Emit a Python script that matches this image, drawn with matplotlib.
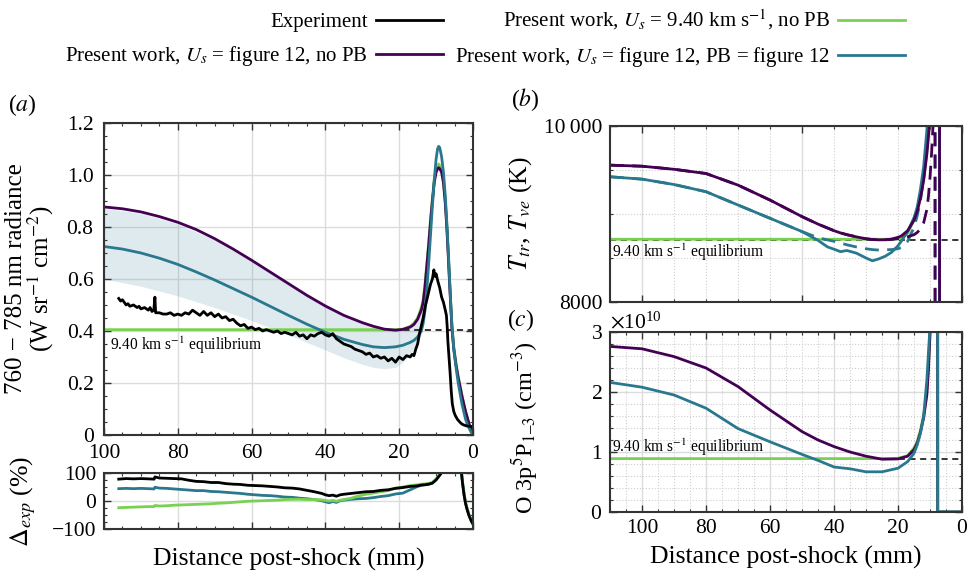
import numpy as np
import matplotlib
matplotlib.use('Agg')
import matplotlib.pyplot as plt
from matplotlib.ticker import MultipleLocator, ScalarFormatter

plt.rcParams['font.family'] = ['Liberation Serif', 'DejaVu Serif']
plt.rcParams['mathtext.fontset'] = 'stix'

# colours
c_exp = 'black'
c_green = '#7ad151'
c_purple = '#440154'
c_teal = '#2a788e'

# ---------------- panel (a): radiance ----------------
xa = [100, 95, 90, 85, 80, 75, 70, 65, 60, 55, 50, 45, 40, 35, 30, 27, 24, 21, 19, 17,
      16, 15, 14, 13.5, 13, 12.5, 12, 11.5, 11, 10.5, 10, 9.6, 9.3, 9.0, 8.5, 8.0, 7.5, 7.1,
      6.7, 6.4, 6.0, 5.7, 5.2, 4.6, 4.0, 3.5, 3.0, 2.5, 2.0, 1.5, 1.0, 0.5, 0.0]
rad_purple = [0.877, 0.870, 0.858, 0.840, 0.818, 0.790, 0.755, 0.715, 0.672, 0.627,
              0.582, 0.537, 0.496, 0.460, 0.432, 0.418, 0.407, 0.403, 0.406, 0.415,
              0.425, 0.445, 0.48, 0.51, 0.57, 0.65, 0.73, 0.82, 0.90, 0.97,
              1.01, 1.024, 1.028, 1.024, 1.01, 0.97, 0.89, 0.80, 0.69, 0.60,
              0.49, 0.41, 0.33, 0.27, 0.22, 0.185, 0.15, 0.12, 0.09, 0.065,
              0.04, 0.02, 0.005]
rad_green = [0.405] * 18 + [0.407, 0.418, 0.43, 0.45, 0.49, 0.52, 0.58, 0.66, 0.74, 0.83,
                            0.91, 0.98, 1.02, 1.038, 1.042, 1.036, 1.02, 0.98, 0.90, 0.81,
                            0.70, 0.61, 0.50, 0.42, 0.34, 0.275, 0.225, 0.19, 0.155, 0.12,
                            0.09, 0.065, 0.04, 0.02, 0.005]
rad_teal = [0.725, 0.715, 0.700, 0.680, 0.656, 0.627, 0.596, 0.563, 0.530, 0.495,
            0.460, 0.426, 0.395, 0.368, 0.348, 0.339, 0.336, 0.339, 0.345, 0.356,
            0.364, 0.377, 0.40, 0.43, 0.48, 0.56, 0.66, 0.77, 0.88, 0.98,
            1.06, 1.10, 1.11, 1.105, 1.07, 1.01, 0.92, 0.82, 0.71, 0.62,
            0.50, 0.42, 0.33, 0.26, 0.20, 0.16, 0.12, 0.09, 0.06, 0.04,
            0.025, 0.01, 0.0]

x_band = [100, 90, 80, 70, 60, 50, 40, 35, 30, 27, 24, 21, 19, 17, 15, 14, 13, 12.5]
band_hi = [0.872, 0.853, 0.812, 0.75, 0.667, 0.577, 0.492, 0.456, 0.428, 0.415, 0.406,
           0.404, 0.41, 0.425, 0.46, 0.50, 0.57, 0.62]
band_lo = [0.60, 0.572, 0.535, 0.49, 0.44, 0.385, 0.327, 0.297, 0.272, 0.26, 0.255,
           0.26, 0.28, 0.31, 0.355, 0.385, 0.45, 0.52]

x_exp = [96, 95.5, 95, 94.5, 94, 93.5, 93, 92, 91, 90.5, 90, 89, 88, 87.5, 87, 86.5, 86.2, 86,
         85, 84, 83, 82, 81, 80, 79, 78, 77, 76, 75, 74, 73, 72, 71, 70, 69, 68, 67, 66, 65,
         64, 63, 62, 61, 60, 59, 58, 57, 56, 55, 54, 53, 52, 51, 50, 49, 48, 47, 46, 45, 44,
         43, 42, 41, 40, 39, 38, 37, 36, 35, 34, 33, 32, 31, 30, 29, 28, 27, 26, 25, 24, 23,
         22, 21, 20, 19, 18, 17, 16.5, 16, 15.5, 15, 14.5, 14, 13.5, 13, 12.5, 12, 11.5, 11,
         10.6, 10.3, 10, 9.5, 9, 8.5, 8, 7.5, 7.2, 7, 6.8, 6.5, 6.2, 5.9, 5.6, 5.2, 4.8, 4.2,
         3.6, 3, 2.4, 1.8, 1.2, 0.6, 0.2]
rad_exp = [0.525, 0.515, 0.52, 0.51, 0.50, 0.505, 0.495, 0.50, 0.49, 0.495, 0.485, 0.49,
           0.48, 0.49, 0.475, 0.48, 0.53, 0.47, 0.47, 0.465, 0.465, 0.47, 0.46, 0.465, 0.46,
           0.47, 0.465, 0.48, 0.47, 0.46, 0.475, 0.46, 0.47, 0.455, 0.465, 0.45, 0.455, 0.44,
           0.445, 0.43, 0.42, 0.425, 0.41, 0.415, 0.405, 0.41, 0.40, 0.405, 0.40, 0.395, 0.40,
           0.39, 0.395, 0.39, 0.385, 0.395, 0.38, 0.385, 0.37, 0.385, 0.38, 0.39, 0.395, 0.385,
           0.38, 0.39, 0.37, 0.36, 0.35, 0.345, 0.34, 0.33, 0.325, 0.32, 0.31, 0.315, 0.30,
           0.305, 0.295, 0.30, 0.285, 0.295, 0.28, 0.30, 0.29, 0.305, 0.30, 0.31, 0.305, 0.33,
           0.35, 0.39, 0.42, 0.45, 0.49, 0.52, 0.55, 0.58, 0.60, 0.635, 0.61, 0.62, 0.59,
           0.565, 0.53, 0.51, 0.48, 0.46, 0.42, 0.36, 0.30, 0.24, 0.17, 0.12, 0.09, 0.075,
           0.06, 0.05, 0.042, 0.038, 0.035, 0.034, 0.033, 0.032]

# ---------------- panel (a) lower: deviation from experiment ----------------
x_dev = [96, 94, 92, 90, 88, 86.4, 86.2, 85, 83, 81, 79, 77, 75, 73, 71, 69, 67, 65, 63, 61,
         59, 57, 55, 53, 51, 49, 47, 45, 43, 41, 40, 39, 38, 37, 36, 35, 33, 31, 29, 27,
         25, 23, 21, 19, 17, 15, 14, 13, 12, 11, 10, 9, 8, 7, 5, 4, 3.2, 2.8, 2.4, 2.0,
         1.5, 1.0, 0.5, 0.0]
dev_black = [78, 80, 79, 80, 79, 78, 86, 82, 81, 80, 79, 74, 70, 69, 66, 66, 62, 60, 59, 56,
             55, 54, 52, 50, 47, 46, 43, 38, 33, 27, 22, 19, 21, 17, 22, 24, 27, 30, 33, 34,
             38, 40, 45, 48, 52, 54, 57, 58, 60, 64, 75, 92, 110, 140, 260, 300, 110, 60, 20, -10,
             -35, -55, -70, -82]
dev_green = [-24, -23, -22, -21, -20, -20, -16, -18, -17, -15, -14, -13, -12, -11, -10, -8, -7,
             -5, -3, -1, 0, 1, 2, 3, 5, 6, 6, 5, 5, 4, 2, 0, 2, -1, 3, 5, 10, 18, 24, 28,
             33, 37, 46, 50, 55, 58, 60, 61, 63, 66, 78, 95, 115, 150, 270, 300, 110, 62, 22, -8,
             -33, -54, -70, -84]
dev_teal = [44, 45, 44, 45, 44, 43, 49, 46, 45, 43, 41, 39, 37, 37, 34, 33, 31, 29, 27, 24,
            22, 20, 19, 17, 14, 13, 10, 8, 5, 1, -3, -6, -2, -5, 1, 3, 6, 8, 9, 12,
            16, 19, 25, 28, 40, 52, 56, 58, 60, 64, 78, 95, 115, 150, 270, 300, 112, 64, 24, -6,
            -31, -52, -68, -80]

# ---------------- panel (b): temperatures ----------------
xb = [110, 100, 90, 80, 70, 60, 50, 45, 42, 40, 38, 36, 33, 30, 28, 26, 24, 22, 20, 19,
      17, 15, 14, 13, 12, 11, 10.5, 10, 9.5, 9, 8.5, 8, 7.5, 7.05, 7.0, 0]
ttr_purple = [9555, 9543, 9508, 9460, 9328, 9158, 8970, 8885, 8840, 8810,
              8785, 8765, 8740, 8718, 8710, 8706, 8707, 8715, 8735, 8750,
              8810, 8930, 9030, 9180, 9380, 9680, 9880, 10100, 10500, 11200,
              12300, 14000, 17000, 20000, 300, 300]
ttr_green = [8713] * 18 + [8716, 8722, 8780, 8930, 9040, 9200, 9400, 9700, 9900, 10150,
                           10600, 11300, 12300, 14000, 17000, 20000, 300, 300]
ttr_teal = [9423, 9396, 9335, 9253, 9102, 8951, 8800, 8700, 8625, 8600,
            8572, 8585, 8555, 8500, 8468, 8490, 8520, 8565, 8640, 8690,
            8800, 8960, 9080, 9280, 9540, 9950, 10300, 10900, 11600, 12400,
            13400, 15000, 17000, 20000, 300, 300]

xbv = [110, 100, 90, 80, 70, 60, 50, 45, 42, 40, 38, 36, 33, 30, 28, 26, 24, 22, 20, 19,
       17, 15, 14, 13, 12, 11, 10.5, 10, 9.5, 9, 8.7, 8.45, 8.4, 0]
tve_purple = [9555, 9543, 9508, 9460, 9328, 9158, 8970, 8885, 8840, 8810,
              8785, 8765, 8740, 8718, 8710, 8706, 8707, 8712, 8720, 8725,
              8740, 8765, 8790, 8830, 8900, 9050, 9200, 9420, 9700, 10050,
              11500, 14000, 300, 300]
tve_teal = [9423, 9396, 9335, 9253, 9102, 8951, 8800, 8730, 8705, 8690,
            8670, 8650, 8625, 8605, 8595, 8590, 8592, 8596, 8605, 8620,
            8690, 8850, 8980, 9150, 9400, 9750, 9950, 10200, 10700, 11500,
            13000, 15000, 300, 300]
T_eq = 8700

# ---------------- panel (c): O 3p5P population (x 1e10 cm^-3) ----------------
xc = [110, 100, 90, 80, 70, 60, 50, 45, 40, 35, 30, 25, 20, 17, 15, 14, 13, 12, 11, 10.5,
      10, 9.5, 9, 8, 7.65, 7.6, 0]
n_purple = [2.76, 2.72, 2.59, 2.40, 2.09, 1.70, 1.34, 1.20, 1.09, 1.00,
            0.93, 0.88, 0.885, 0.93, 1.04, 1.15, 1.33, 1.57, 1.95, 2.37,
            2.98, 3.8, 4.8, 7.0, 9.0, 0.0, 0.0]
n_green = [0.89] * 12 + [0.895, 0.94, 1.07, 1.18, 1.36, 1.62, 2.0, 2.45,
                         3.05, 3.9, 4.9, 7.0, 9.0, 0.0, 0.0]
n_teal = [2.16, 2.08, 1.95, 1.73, 1.39, 1.17, 0.96, 0.86, 0.75, 0.72,
          0.67, 0.67, 0.73, 0.84, 0.98, 1.12, 1.31, 1.60, 2.2, 2.65,
          3.1, 3.9, 4.9, 7.0, 9.0, 0.0, 0.0]
n_eq = 0.89

lab_exp = 'Experiment'
lab_green = r'Present work, $U_s$ = 9.40 km s$^{-1}$, no PB'
lab_purple = r'Present work, $U_s$ = figure 12, no PB'
lab_teal = r'Present work, $U_s$ = figure 12, PB = figure 12'
eq_text = r'9.40 km s$^{-1}$ equilibrium'

LW = 2.0
TS = 15.5
LS = 18.5


def style(ax, ypad=5.5, xpad=5):
    ax.tick_params(which='both', direction='in', top=True, right=True,
                   labelsize=TS, color='#333333')
    ax.tick_params(which='major', length=5, width=1)
    ax.tick_params(which='minor', length=2.5, width=0.8)
    ax.tick_params(axis='y', pad=ypad)
    ax.tick_params(axis='x', pad=xpad)
    for s in ax.spines.values():
        s.set_linewidth(1.5)
        s.set_color('#333333')
    ax.set_axisbelow(True)


fig = plt.figure(figsize=(9.7, 5.74), dpi=100)
ax_a = fig.add_axes([0.1072, 0.2422, 0.3804, 0.5436])
ax_d = fig.add_axes([0.1072, 0.0784, 0.3804, 0.0976])
ax_b = fig.add_axes([0.6289, 0.4739, 0.3629, 0.3066])
ax_c = fig.add_axes([0.6289, 0.1080, 0.3629, 0.3136])

# ---- (a)
ax = ax_a
style(ax, ypad=7.5, xpad=6.5)
ax.fill_between(x_band, band_lo, band_hi, color=c_teal, alpha=0.15, lw=0)
ax.axhline(0.405, color='black', ls='--', lw=1.1, dashes=(4, 3))
h_green, = ax.plot(xa, rad_green, color=c_green, lw=LW, label=lab_green)
h_purple, = ax.plot(xa, rad_purple, color=c_purple, lw=LW, label=lab_purple)
h_teal, = ax.plot(xa, rad_teal, color=c_teal, lw=LW, label=lab_teal)
h_exp, = ax.plot(x_exp, rad_exp, color=c_exp, lw=LW, label=lab_exp)
ax.set_xlim(100, 0)
ax.set_ylim(0, 1.2)
ax.xaxis.set_major_locator(MultipleLocator(20))
ax.xaxis.set_minor_locator(MultipleLocator(5))
ax.set_yticks([0, 0.2, 0.4, 0.6, 0.8, 1.0, 1.2],
              labels=['0', '0.2', '0.4', '0.6', '0.8', '1.0', '1.2'])
ax.yaxis.set_minor_locator(MultipleLocator(0.05))
ax.grid(True, which='major', color='#dcdcdc', lw=1)
ax.text(98.4, 0.345, eq_text, fontsize=11.2, va='center', ha='left')
ax.set_ylabel('760 − 785 nm radiance\n(W sr$^{-1}$ cm$^{-2}$)', fontsize=18,
              linespacing=0.95)
ax.yaxis.set_label_coords(-0.13, 0.5)

# ---- (a) lower
ax = ax_d
style(ax)
ax.plot(x_dev, dev_teal, color=c_teal, lw=LW)
ax.plot(x_dev, dev_green, color=c_green, lw=LW)
ax.plot(x_dev, dev_black, color='black', lw=LW)
ax.set_xlim(100, 0)
ax.set_ylim(-100, 100)
ax.xaxis.set_major_locator(MultipleLocator(20))
ax.xaxis.set_minor_locator(MultipleLocator(5))
ax.set_yticks([-100, 0, 100])
ax.yaxis.set_minor_locator(MultipleLocator(25))
ax.tick_params(labelbottom=False)
ax.grid(True, which='major', color='#dcdcdc', lw=1)
ax.set_ylabel(r'$\mathit{\Delta}_{exp}$ (%)', fontsize=LS)
ax.yaxis.set_label_coords(-0.18, 0.5)
ax.set_xlabel('Distance post-shock (mm)', fontsize=LS)
ax.xaxis.set_label_coords(0.5, -0.33)

# ---- (b)
ax = ax_b
style(ax)
ax.axhline(T_eq, color='black', ls='--', lw=1.1, dashes=(4, 3))
ax.plot(xb, ttr_green, color=c_green, lw=LW)
ax.plot(xb, ttr_teal, color=c_teal, lw=LW)
ax.plot(xbv, tve_teal, color=c_teal, lw=LW, ls='--', dashes=(5, 3))
ax.plot(xb, ttr_purple, color=c_purple, lw=LW)
ax.plot(xbv, tve_purple, color=c_purple, lw=LW, ls='--', dashes=(5, 3))
ax.set_xlim(110, 0)
ax.set_ylim(8000, 10000)
ax.xaxis.set_major_locator(MultipleLocator(50))
ax.xaxis.set_minor_locator(MultipleLocator(10))
ax.set_yticks([8000, 10000], labels=['8000', '10\u2009000'])
ax.yaxis.set_minor_locator(MultipleLocator(500))
ax.tick_params(labelbottom=False)
ax.grid(True, which='major', color='#dcdcdc', lw=1)
ax.grid(True, which='minor', color='#cfcfcf', lw=0.8, ls=':')
ax.text(109.5, 8560, eq_text, fontsize=11.2, va='center', ha='left')
ax.set_ylabel(r'$T_{tr}$, $T_{ve}$ (K)', fontsize=LS)
ax.yaxis.set_label_coords(-0.215, 0.5)

# ---- (c)
ax = ax_c
style(ax)
ax.axhline(n_eq * 1e10, color='black', ls='--', lw=1.1, dashes=(4, 3))
ax.plot(xc, np.array(n_green) * 1e10, color=c_green, lw=LW)
ax.plot(xc, np.array(n_purple) * 1e10, color=c_purple, lw=LW)
ax.plot(xc, np.array(n_teal) * 1e10, color=c_teal, lw=LW)
ax.set_xlim(110, 0)
ax.set_ylim(0, 3e10)
ax.xaxis.set_major_locator(MultipleLocator(20))
ax.xaxis.set_minor_locator(MultipleLocator(5))
ax.yaxis.set_major_locator(MultipleLocator(1e10))
ax.yaxis.set_minor_locator(MultipleLocator(0.2e10))
fmt = ScalarFormatter(useMathText=True)
ax.yaxis.set_major_formatter(fmt)
ax.yaxis.get_offset_text().set_fontsize(TS)
ax.grid(True, which='major', color='#dcdcdc', lw=1)
ax.grid(True, which='minor', color='#cfcfcf', lw=0.8, ls=':')
ax.text(109.5, 1.07e10, eq_text, fontsize=11.2, va='center', ha='left')
ax.set_ylabel('O 3p$^5$P$_{1\u20133}$ (cm$^{-3}$)', fontsize=17.5)
ax.yaxis.set_label_coords(-0.2, 0.47)
ax.set_xlabel('Distance post-shock (mm)', fontsize=LS)
ax.xaxis.set_label_coords(0.5, -0.19)

# panel labels
fig.text(0.008, 0.817, '($a$)', fontsize=17, va='center', ha='left')
fig.text(0.527, 0.826, '($b$)', fontsize=17, va='center', ha='left')
fig.text(0.523, 0.443, '($c$)', fontsize=17, va='center', ha='left')

fig.legend([h_exp, h_purple, h_green, h_teal],
           [lab_exp, lab_purple, lab_green, lab_teal],
           loc='upper center', bbox_to_anchor=(0.5, 1.012), ncol=2,
           markerfirst=False, frameon=False, fontsize=15,
           handlelength=3.2, handletextpad=0.4, columnspacing=0.6,
           labelspacing=0.6, borderpad=0.2)

fig.savefig('out.png', dpi=100)
